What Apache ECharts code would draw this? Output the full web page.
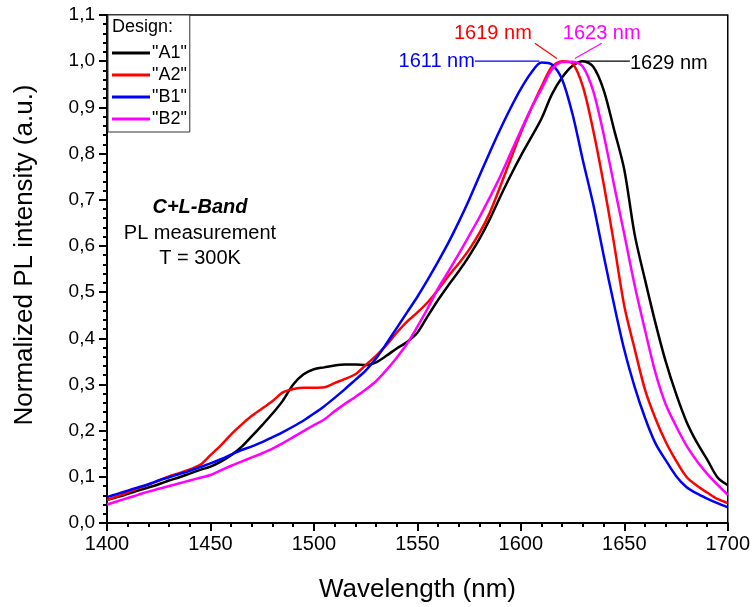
<!DOCTYPE html>
<html>
<head>
<meta charset="utf-8">
<script src="https://cdn.jsdelivr.net/npm/echarts@6/dist/echarts.min.js"></script>
<style>
html,body{margin:0;padding:0;background:#fff;}
#chart{width:753px;height:607px;}
</style>
</head>
<body>
<div id="chart"></div>
<script>
// Wavelength grid (nm)
const wavelengths = [1400,1405,1410,1415,1420,1425,1430,1435,1440,1445,1450,1455,1460,1465,1470,1475,1480,1485,1490,1495,1500,1505,1510,1515,1520,1525,1530,1535,1540,1545,1550,1555,1560,1565,1570,1575,1580,1585,1590,1595,1600,1605,1610,1615,1620,1625,1630,1635,1640,1645,1650,1655,1660,1665,1670,1675,1680,1685,1690,1695,1700];

const seriesNames = ['"A1"', '"A2"', '"B1"', '"B2"'];

const valuesA1 = [0.050,0.056,0.063,0.070,0.077,0.084,0.092,0.099,0.107,0.115,0.122,0.133,0.147,0.165,0.188,0.212,0.237,0.265,0.300,0.322,0.333,0.337,0.341,0.343,0.343,0.342,0.348,0.362,0.378,0.392,0.412,0.448,0.483,0.515,0.545,0.578,0.615,0.658,0.706,0.752,0.795,0.835,0.876,0.928,0.965,0.990,1.000,0.988,0.938,0.853,0.765,0.625,0.527,0.434,0.350,0.280,0.220,0.175,0.138,0.099,0.082];

const valuesA2 = [0.050,0.058,0.066,0.075,0.083,0.092,0.101,0.108,0.116,0.126,0.147,0.168,0.192,0.213,0.232,0.248,0.264,0.283,0.290,0.293,0.293,0.294,0.303,0.312,0.322,0.342,0.362,0.385,0.412,0.436,0.456,0.478,0.505,0.535,0.562,0.592,0.628,0.672,0.728,0.787,0.845,0.897,0.945,0.988,1.000,0.995,0.945,0.850,0.735,0.606,0.470,0.377,0.289,0.227,0.176,0.135,0.100,0.081,0.066,0.052,0.043];

const valuesB1 = [0.056,0.063,0.070,0.077,0.084,0.092,0.099,0.106,0.113,0.121,0.129,0.138,0.148,0.158,0.166,0.175,0.186,0.197,0.209,0.222,0.237,0.253,0.271,0.290,0.310,0.330,0.356,0.388,0.422,0.456,0.490,0.527,0.566,0.607,0.652,0.700,0.752,0.803,0.852,0.898,0.940,0.975,0.997,0.993,0.960,0.885,0.785,0.690,0.580,0.474,0.375,0.295,0.228,0.173,0.136,0.102,0.078,0.064,0.053,0.043,0.034];

const valuesB2 = [0.040,0.047,0.054,0.061,0.068,0.074,0.080,0.086,0.092,0.098,0.104,0.114,0.124,0.133,0.142,0.151,0.161,0.173,0.186,0.199,0.212,0.224,0.242,0.258,0.273,0.289,0.307,0.331,0.358,0.388,0.425,0.465,0.508,0.545,0.583,0.622,0.662,0.705,0.750,0.800,0.850,0.898,0.940,0.982,0.998,0.999,0.988,0.935,0.842,0.733,0.625,0.515,0.418,0.326,0.257,0.210,0.168,0.135,0.107,0.083,0.061];

const xTicks = [1400,1450,1500,1550,1600,1650,1700];
const yTicks = [0,0.1,0.2,0.3,0.4,0.5,0.6,0.7,0.8,0.9,1.0,1.1];

const peakLabels = ['1629 nm', '1619 nm', '1611 nm', '1623 nm'];

const colors = ['#000000', '#ff0000', '#0000ff', '#ff00ff'];
const allValues = [valuesA1, valuesA2, valuesB1, valuesB2];
const FONT = '"Liberation Sans", Arial, sans-serif';

const chart = echarts.init(document.getElementById('chart'), null, {renderer: 'canvas'});

const series = seriesNames.map((name, i) => ({
  name: name,
  type: 'line',
  data: wavelengths.map((w, k) => [w, allValues[i][k]]),
  symbol: 'none',
  smooth: 0.3,
  lineStyle: {color: colors[i], width: 2.5},
  itemStyle: {color: colors[i]},
  z: 3 + i
}));

chart.setOption({
  animation: false,
  backgroundColor: '#fff',
  textStyle: {fontFamily: FONT},
  grid: {left: 107, right: 25, top: 15, bottom: 84, show: true, borderColor: '#000', borderWidth: 1.5, backgroundColor: 'transparent'},
  legend: {
    orient: 'vertical',
    left: 108, top: 15,
    padding: [29, 3, 4, 4],
    backgroundColor: '#fff',
    borderColor: '#333',
    borderWidth: 1,
    icon: 'rect',
    itemWidth: 38, itemHeight: 3,
    itemGap: 4,
    textStyle: {fontSize: 18, color: '#000', fontFamily: FONT, padding: [0, 0, 0, -3]},
    data: seriesNames
  },
  xAxis: {
    type: 'value', min: 1400, max: 1700, interval: 50,
    axisLine: {lineStyle: {color: '#000', width: 2}},
    axisTick: {show: true, length: 8, lineStyle: {color: '#000', width: 2}},
    minorTick: {show: true, splitNumber: 5, length: 4, lineStyle: {color: '#000', width: 2}},
    axisLabel: {fontSize: 20, color: '#000', margin: 11, fontFamily: FONT,
      formatter: v => xTicks.includes(v) ? String(v) : ''},
    splitLine: {show: false}
  },
  yAxis: {
    type: 'value', min: 0, max: 1.1, interval: 0.1,
    axisLine: {show: true, lineStyle: {color: '#000', width: 2}},
    axisTick: {show: true, length: 8, lineStyle: {color: '#000', width: 2}},
    minorTick: {show: true, splitNumber: 5, length: 4, lineStyle: {color: '#000', width: 2}},
    axisLabel: {fontSize: 19, color: '#000', margin: 12, fontFamily: FONT,
      formatter: v => {
        const t = yTicks.find(y => Math.abs(y - v) < 1e-6);
        return t === undefined ? '' : t.toFixed(1).replace('.', ',');
      }},
    splitLine: {show: false}
  },
  series: series
});

// Annotations placed via the chart's own coordinate system
function px(pt) { return chart.convertToPixel({gridIndex: 0}, pt); }
const lines = [
  {from: [1629.5, 1.0], to: [1652.7, 1.0], color: colors[0]},
  {from: [1606.8, 1.039], to: [1617.4, 1.006], color: colors[1]},
  {from: [1577.8, 1.0], to: [1609.0, 1.0], color: colors[2]},
  {from: [1639.1, 1.039], to: [1626.1, 1.006], color: colors[3]}
];
const texts = [
  {at: [1652.7, 0.996], align: 'left', color: colors[0], text: peakLabels[0]},
  {at: [1586.5, 1.060], align: 'center', color: colors[1], text: peakLabels[1]},
  {at: [1577.8, 1.0], align: 'right', color: colors[2], text: peakLabels[2]},
  {at: [1639.1, 1.060], align: 'center', color: colors[3], text: peakLabels[3]}
];
const graphics = [];
lines.forEach(l => {
  const a = px(l.from), b = px(l.to);
  graphics.push({type: 'line', shape: {x1: a[0], y1: a[1], x2: b[0], y2: b[1]}, style: {stroke: l.color, lineWidth: 1.2}, z: 10});
});
texts.forEach(t => {
  const p = px(t.at);
  graphics.push({type: 'text', x: p[0], y: p[1], style: {text: t.text, fill: t.color, font: '20px ' + FONT, textAlign: t.align, textVerticalAlign: 'middle'}, z: 10});
});
// Axis titles
graphics.push({type: 'text', x: 417.5, y: 590, style: {text: 'Wavelength (nm)', fill: '#000', font: '26px ' + FONT, textAlign: 'center', textVerticalAlign: 'middle'}, z: 10});
graphics.push({type: 'text', x: 25, y: 255, rotation: Math.PI / 2, style: {text: 'Normalized PL intensity (a.u.)', fill: '#000', font: '26px ' + FONT, textAlign: 'center', textVerticalAlign: 'middle'}, z: 10});
// Legend title
graphics.push({type: 'text', left: 112, top: 18, style: {text: 'Design:', fill: '#000', font: '18px ' + FONT}, z: 20});
// Inset text
const inset = [
  {t: 'C+L-Band', y: 207, font: 'italic bold 20px ' + FONT},
  {t: 'PL measurement', y: 233, font: '20px ' + FONT},
  {t: 'T = 300K', y: 258, font: '20px ' + FONT}
];
inset.forEach(s => {
  graphics.push({type: 'text', x: 200, y: s.y, style: {text: s.t, fill: '#000', font: s.font, textAlign: 'center', textVerticalAlign: 'middle'}, z: 10});
});
chart.setOption({graphic: graphics});
</script>
</body>
</html>
